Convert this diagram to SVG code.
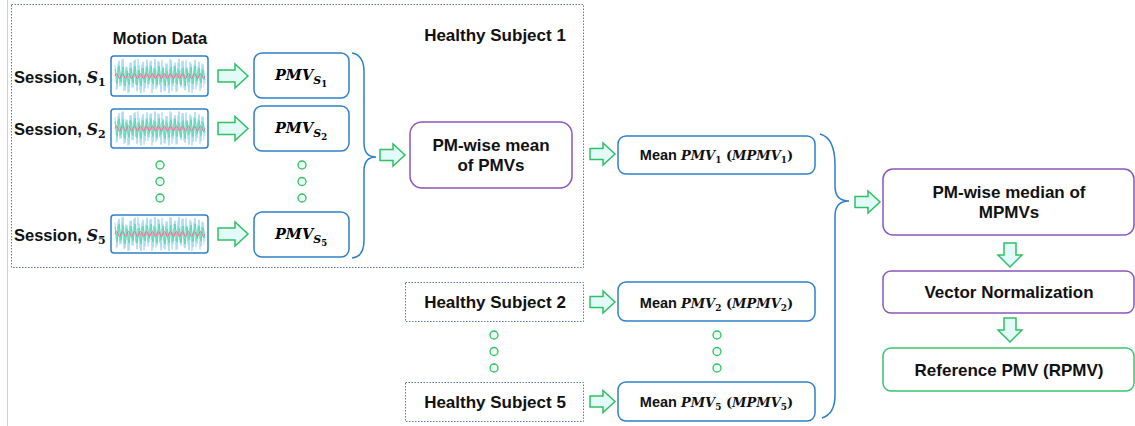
<svg xmlns="http://www.w3.org/2000/svg" xmlns:xlink="http://www.w3.org/1999/xlink" width="1135" height="426" viewBox="0 0 1135 426">
<style>
.sans{font-family:"Liberation Sans",Arial,sans-serif;font-weight:bold;fill:#111}
.m{font-family:"DejaVu Serif","Liberation Serif",serif;font-style:italic;font-weight:bold}
.up{font-family:"DejaVu Serif","Liberation Serif",serif;font-style:normal;font-weight:bold}
.bb{fill:#fff;stroke:#2f80c8;stroke-width:1.5}
.pb{fill:#fff;stroke:#8c55bd;stroke-width:1.5}
.gb{fill:#fff;stroke:#3cc46e;stroke-width:1.5}
.dot{fill:none;stroke:#5a7bab;stroke-width:1;stroke-dasharray:1.5 1.5}
.arr{fill:#e3fbf8;stroke:#2fc065;stroke-width:1.5;stroke-linejoin:miter}
.circ{fill:#eefcf6;stroke:#2fc065;stroke-width:1.3}
.brace{fill:none;stroke:#2f80c8;stroke-width:1.5}
</style>
<defs>
<path id="ra" d="M0,-6 H17 V-12 L30,0 L17,12 V6 H0 Z"/>
<path id="ra2" d="M0,-5.5 H13 V-11 L25,0 L13,11 V5.5 H0 Z"/>
<path id="da" d="M-6,0 V12 H-12 L0,24 L12,12 H6 V0 Z"/>
<g id="wave">
<polyline fill="none" stroke="#8fd2f5" stroke-width="1" opacity="0.85" transform="scale(1,0.95)" points="0,-12 2,14 4,-16 6,10 8,-18 10,15 12,-9 14,17 16,-14 18,12 20,-17 22,16 24,-11 26,18 28,-15 30,13 32,-17 34,9 36,-16 38,14 40,-18 42,12 44,-15 46,17 48,-10 50,16 52,-13 54,18 56,-17 58,11 60,-14 62,16 64,-18 66,12 68,-16 70,15 72,-9 74,17 76,-13 78,14 80,-17 82,10 84,-15 86,13 88,-12 90,8"/>
<polyline fill="none" stroke="#a5dcf7" stroke-width="1" opacity="0.85" transform="scale(1,0.95)" points="1,15 3,-13 5,11 7,-17 9,16 11,-10 13,18 15,-14 17,12 19,-16 21,9 23,-18 25,15 27,-12 29,17 31,-11 33,13 35,-15 37,18 39,-9 41,14 43,-16 45,10 47,-17 49,15 51,-13 53,12 55,-18 57,16 59,-11 61,17 63,-14 65,9 67,-16 69,13 71,-17 73,11 75,-15 77,18 79,-12 81,14 83,-10 85,16 87,-13 89,12"/>
<polyline fill="none" stroke="#4fd6a0" stroke-width="1" opacity="0.8" points="0,-7 2,8 4,-10 6,6 8,-9 10,10 12,-5 14,9 16,-8 18,7 20,-10 22,9 24,-6 26,10 28,-8 30,7 32,-9 34,5 36,-10 38,8 40,-7 42,9 44,-10 46,6 48,-8 50,10 52,-5 54,9 56,-9 58,7 60,-10 62,8 64,-6 66,9 68,-8 70,10 72,-7 74,6 76,-9 78,8 80,-10 82,5 84,-8 86,7 88,-6 90,4"/>
<polyline fill="none" stroke="#6fe0b0" stroke-width="1" opacity="0.7" points="1,6 3,-8 5,7 7,-5 9,8 11,-7 13,6 15,-8 17,5 19,-7 21,8 23,-6 25,7 27,-8 29,6 31,-5 33,8 35,-7 37,6 39,-8 41,7 43,-5 45,8 47,-6 49,7 51,-8 53,6 55,-7 57,8 59,-5 61,7 63,-8 65,6 67,-7 69,5 71,-8 73,7 75,-6 77,8 79,-5 81,7 83,-6 85,5 87,-7 89,4"/>
<path fill="none" stroke="#f2a0b8" stroke-width="2.5" opacity="0.7" d="M22,0 H70"/>
<path fill="none" stroke="#e8709a" stroke-width="1" d="M0,0 q1.5,-5 3,0 t3,0 t3,0 t3,0 t3,0 t3,0 t3,0 t3,0 t3,0 t3,0 t3,0 t3,0 t3,0 t3,0 t3,0 t3,0 t3,0 t3,0 t3,0 t3,0 t3,0 t3,0 t3,0 t3,0 t3,0 t3,0 t3,0 t3,0 t3,0 t3,0"/>
</g>
</defs>
<rect width="1135" height="426" fill="#fff"/>
<line x1="7.5" y1="0" x2="7.5" y2="426" stroke="#cfcfcf" stroke-width="1"/>

<g id="healthy-subject-1">
<rect class="dot" x="11.5" y="4.5" width="572" height="263"/>
<text class="sans" x="495" y="41" font-size="17" text-anchor="middle">Healthy Subject 1</text>
</g>

<g id="motion-data-label">
<text class="sans" x="160" y="44" font-size="16.5" text-anchor="middle">Motion Data</text>
</g>

<g id="session-1">
<text class="sans" x="14" y="83" font-size="16.5">Session, <tspan class="m" font-size="16">S</tspan><tspan class="up" font-size="11" dy="3">1</tspan></text>
<rect class="bb" x="111" y="56" width="97" height="40" rx="3"/>
<use href="#wave" x="115" y="76"/>
</g>
<g id="session-2">
<text class="sans" x="14" y="135" font-size="16.5">Session, <tspan class="m" font-size="16">S</tspan><tspan class="up" font-size="11" dy="3">2</tspan></text>
<rect class="bb" x="111" y="109" width="97" height="39" rx="3"/>
<use href="#wave" x="115" y="128.5"/>
</g>
<g id="session-5">
<text class="sans" x="14" y="241" font-size="16.5">Session, <tspan class="m" font-size="16">S</tspan><tspan class="up" font-size="11" dy="3">5</tspan></text>
<rect class="bb" x="111" y="215" width="97" height="38" rx="3"/>
<use href="#wave" x="115" y="234"/>
</g>

<g id="pmv-s1">
<rect class="bb" x="254" y="53" width="95" height="45" rx="8"/>
<text class="m" x="301" y="80" font-size="14.5" text-anchor="middle">PMV<tspan font-size="11" dy="4">S</tspan><tspan class="up" font-size="8.5" dy="3">1</tspan></text>
</g>
<g id="pmv-s2">
<rect class="bb" x="254" y="106" width="95" height="45" rx="8"/>
<text class="m" x="301" y="133" font-size="14.5" text-anchor="middle">PMV<tspan font-size="11" dy="4">S</tspan><tspan class="up" font-size="8.5" dy="3">2</tspan></text>
</g>
<g id="pmv-s5">
<rect class="bb" x="254" y="212" width="95" height="45" rx="8"/>
<text class="m" x="301" y="239" font-size="14.5" text-anchor="middle">PMV<tspan font-size="11" dy="4">S</tspan><tspan class="up" font-size="8.5" dy="3">5</tspan></text>
</g>

<g id="dots">
<circle class="circ" cx="160" cy="165" r="4"/><circle class="circ" cx="160" cy="181.5" r="4"/><circle class="circ" cx="160" cy="198" r="4"/>
<circle class="circ" cx="302" cy="165" r="4"/><circle class="circ" cx="302" cy="181.5" r="4"/><circle class="circ" cx="302" cy="198" r="4"/>
<circle class="circ" cx="494" cy="335" r="4"/><circle class="circ" cx="494" cy="351.5" r="4"/><circle class="circ" cx="494" cy="368" r="4"/>
<circle class="circ" cx="717" cy="335" r="4"/><circle class="circ" cx="717" cy="351.5" r="4"/><circle class="circ" cx="717" cy="368" r="4"/>
</g>

<g id="pm-wise-mean">
<rect class="pb" x="410" y="122" width="162" height="66" rx="12"/>
<text class="sans" x="491" y="151" font-size="17" text-anchor="middle">PM-wise mean</text>
<text class="sans" x="491" y="171" font-size="17" text-anchor="middle">of PMVs</text>
</g>

<g id="mean-pmv-1">
<rect class="bb" x="618" y="136" width="197" height="38" rx="8"/>
<text class="sans" x="716.5" y="160" font-size="14.5" text-anchor="middle">Mean <tspan class="m" font-size="13">PMV</tspan><tspan class="up" font-size="9" dy="3">1</tspan><tspan class="up" font-size="13" dy="-3"> (</tspan><tspan class="m" font-size="13">MPMV</tspan><tspan class="up" font-size="9" dy="3">1</tspan><tspan class="up" font-size="13" dy="-3">)</tspan></text>
</g>

<g id="healthy-subject-2">
<rect class="dot" x="405.5" y="282.5" width="178" height="39"/>
<text class="sans" x="495" y="308" font-size="17" text-anchor="middle">Healthy Subject 2</text>
</g>
<g id="healthy-subject-5">
<rect class="dot" x="405.5" y="382.5" width="178" height="39"/>
<text class="sans" x="495" y="408" font-size="17" text-anchor="middle">Healthy Subject 5</text>
</g>

<g id="mean-pmv-2">
<rect class="bb" x="618" y="282" width="197" height="39" rx="8"/>
<text class="sans" x="716.5" y="308" font-size="14.5" text-anchor="middle">Mean <tspan class="m" font-size="13">PMV</tspan><tspan class="up" font-size="9" dy="3">2</tspan><tspan class="up" font-size="13" dy="-3"> (</tspan><tspan class="m" font-size="13">MPMV</tspan><tspan class="up" font-size="9" dy="3">2</tspan><tspan class="up" font-size="13" dy="-3">)</tspan></text>
</g>
<g id="mean-pmv-5">
<rect class="bb" x="618" y="382" width="197" height="39" rx="8"/>
<text class="sans" x="716.5" y="407" font-size="14.5" text-anchor="middle">Mean <tspan class="m" font-size="13">PMV</tspan><tspan class="up" font-size="9" dy="3">5</tspan><tspan class="up" font-size="13" dy="-3"> (</tspan><tspan class="m" font-size="13">MPMV</tspan><tspan class="up" font-size="9" dy="3">5</tspan><tspan class="up" font-size="13" dy="-3">)</tspan></text>
</g>

<g id="pm-wise-median">
<rect class="pb" x="883" y="169" width="251" height="66" rx="10"/>
<text class="sans" x="1009" y="198" font-size="17" text-anchor="middle">PM-wise median of</text>
<text class="sans" x="1009" y="218" font-size="17" text-anchor="middle">MPMVs</text>
</g>
<g id="vector-normalization">
<rect class="pb" x="883" y="271" width="251" height="42" rx="8"/>
<text class="sans" x="1009" y="298" font-size="17" text-anchor="middle">Vector Normalization</text>
</g>
<g id="reference-pmv">
<rect class="gb" x="883" y="348" width="251" height="43" rx="8"/>
<text class="sans" x="1009" y="376" font-size="17" text-anchor="middle">Reference PMV (RPMV)</text>
</g>

<g id="connectors">
<use href="#ra" class="arr" x="218" y="76"/>
<use href="#ra" class="arr" x="218" y="128.5"/>
<use href="#ra" class="arr" x="218" y="234"/>
<path class="brace" d="M352,53 Q364,55 364,72 V143 Q364,157 376,157 Q364,157 364,171 V240 Q364,257 352,258"/>
<use href="#ra2" class="arr" x="380" y="155"/>
<use href="#ra2" class="arr" x="590" y="154"/>
<use href="#ra2" class="arr" x="590" y="302"/>
<use href="#ra2" class="arr" x="590" y="401.5"/>
<path class="brace" d="M820,134 Q835,138 835,165 V186 Q835,201 849,201 Q835,201 835,216 V395 Q835,414 822,418"/>
<use href="#ra2" class="arr" x="855" y="202"/>
<use href="#da" class="arr" x="1010" y="243"/>
<use href="#da" class="arr" x="1010" y="318"/>
</g>
</svg>
